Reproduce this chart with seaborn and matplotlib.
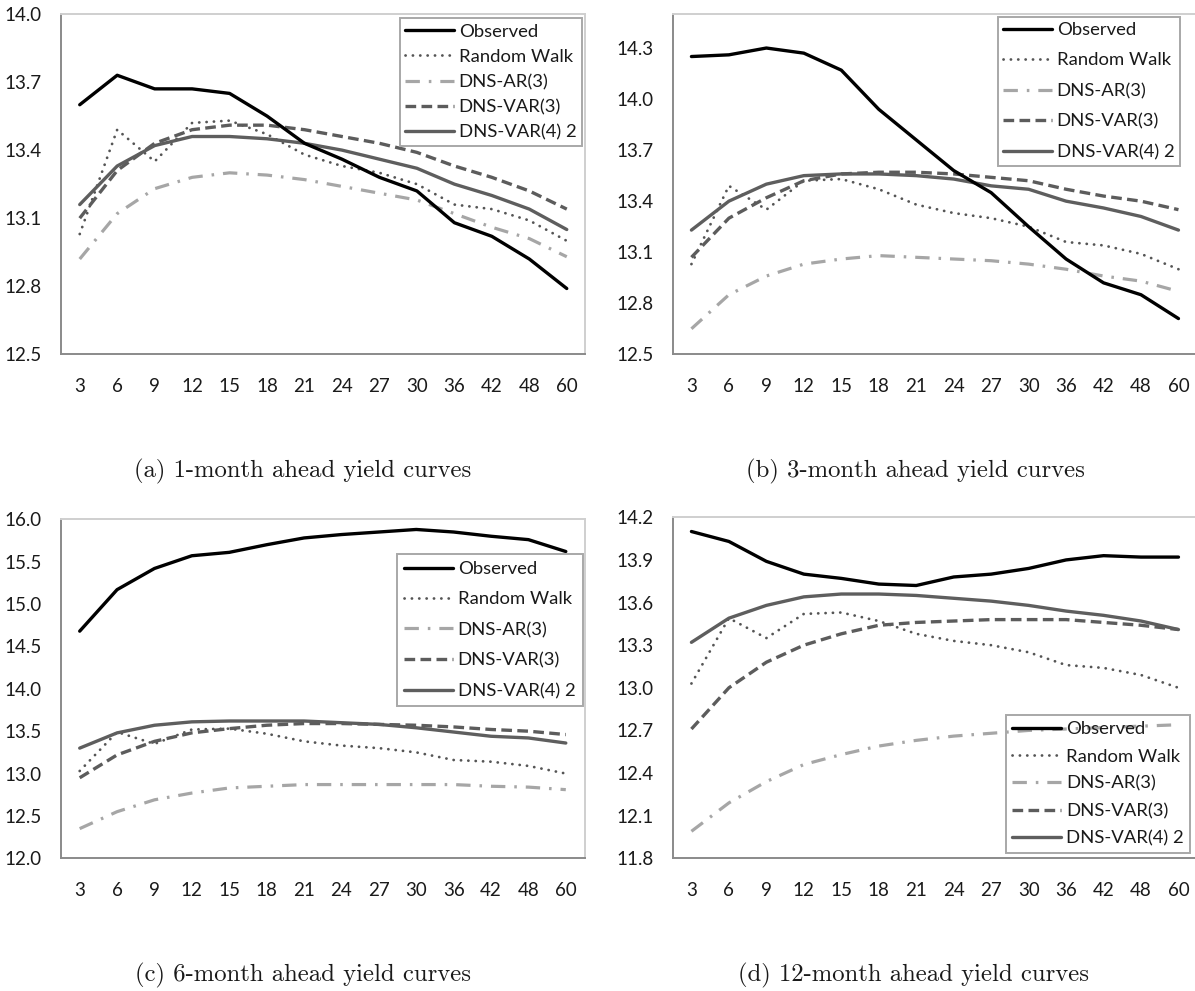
import matplotlib
matplotlib.use("Agg")
import matplotlib.pyplot as plt
from matplotlib.ticker import FixedLocator, FormatStrFormatter
import numpy as np
import pandas as pd
import seaborn as sns

# Maturities (months) on the horizontal axis
maturities = ["3", "6", "9", "12", "15", "18", "21", "24", "27", "30", "36", "42", "48", "60"]

series_names = ["Observed", "Random Walk", "DNS-AR(3)", "DNS-VAR(3)", "DNS-VAR(4) 2"]

# Random-walk forecast (same in every horizon)
random_walk = [13.03, 13.49, 13.35, 13.52, 13.53, 13.47, 13.38, 13.33, 13.30, 13.25, 13.16, 13.14, 13.09, 13.00]

# (a) 1-month ahead
obs_1m = [13.60, 13.73, 13.67, 13.67, 13.65, 13.55, 13.43, 13.36, 13.28, 13.22, 13.08, 13.02, 12.92, 12.79]
ar_1m = [12.92, 13.12, 13.23, 13.28, 13.30, 13.29, 13.27, 13.24, 13.21, 13.18, 13.12, 13.06, 13.01, 12.93]
var3_1m = [13.10, 13.31, 13.43, 13.49, 13.51, 13.51, 13.49, 13.46, 13.43, 13.39, 13.33, 13.28, 13.22, 13.14]
var4_1m = [13.16, 13.33, 13.42, 13.46, 13.46, 13.45, 13.43, 13.40, 13.36, 13.32, 13.25, 13.20, 13.14, 13.05]

# (b) 3-month ahead
obs_3m = [14.25, 14.26, 14.30, 14.27, 14.17, 13.94, 13.76, 13.58, 13.45, 13.25, 13.06, 12.92, 12.85, 12.71]
ar_3m = [12.65, 12.85, 12.96, 13.03, 13.06, 13.08, 13.07, 13.06, 13.05, 13.03, 13.00, 12.96, 12.93, 12.87]
var3_3m = [13.07, 13.30, 13.42, 13.52, 13.56, 13.57, 13.57, 13.56, 13.54, 13.52, 13.47, 13.43, 13.40, 13.35]
var4_3m = [13.23, 13.40, 13.50, 13.55, 13.56, 13.56, 13.55, 13.53, 13.49, 13.47, 13.40, 13.36, 13.31, 13.23]

# (c) 6-month ahead
obs_6m = [14.68, 15.17, 15.42, 15.57, 15.61, 15.70, 15.78, 15.82, 15.85, 15.88, 15.85, 15.80, 15.76, 15.62]
ar_6m = [12.35, 12.55, 12.69, 12.77, 12.83, 12.85, 12.87, 12.87, 12.87, 12.87, 12.87, 12.85, 12.84, 12.81]
var3_6m = [12.95, 13.22, 13.38, 13.48, 13.53, 13.57, 13.59, 13.59, 13.58, 13.57, 13.55, 13.52, 13.50, 13.46]
var4_6m = [13.30, 13.48, 13.57, 13.61, 13.62, 13.62, 13.62, 13.60, 13.58, 13.54, 13.49, 13.44, 13.42, 13.36]

# (d) 12-month ahead
obs_12m = [14.10, 14.03, 13.89, 13.80, 13.77, 13.73, 13.72, 13.78, 13.80, 13.84, 13.90, 13.93, 13.92, 13.92]
ar_12m = [11.99, 12.19, 12.34, 12.46, 12.53, 12.59, 12.63, 12.66, 12.68, 12.70, 12.71, 12.72, 12.73, 12.74]
var3_12m = [12.71, 13.00, 13.18, 13.30, 13.38, 13.44, 13.46, 13.47, 13.48, 13.48, 13.48, 13.46, 13.44, 13.41]
var4_12m = [13.32, 13.49, 13.58, 13.64, 13.66, 13.66, 13.65, 13.63, 13.61, 13.58, 13.54, 13.51, 13.47, 13.41]

captions = ["(a) 1-month ahead yield curves", "(b) 3-month ahead yield curves",
            "(c) 6-month ahead yield curves", "(d) 12-month ahead yield curves"]

panels = [
    dict(obs=obs_1m, ar=ar_1m, var3=var3_1m, var4=var4_1m, ylim=(12.5, 14.0), step=0.3, top=14.0),
    dict(obs=obs_3m, ar=ar_3m, var3=var3_3m, var4=var4_3m, ylim=(12.5, 14.5), step=0.3, top=14.3),
    dict(obs=obs_6m, ar=ar_6m, var3=var3_6m, var4=var4_6m, ylim=(12.0, 16.0), step=0.5, top=16.0),
    dict(obs=obs_12m, ar=ar_12m, var3=var3_12m, var4=var4_12m, ylim=(11.8, 14.2), step=0.3, top=14.2),
]

W, H = 1195, 991
sns.set_style("white")
plt.rcParams["font.family"] = ["Lato", "DejaVu Sans"]

fig = plt.figure(figsize=(W / 100, H / 100), dpi=100)

# axes rectangles in pixels: left, top, right, bottom
rects_px = [(61, 14, 585.5, 354.3), (672.7, 14, 1197.2, 354.3),
            (61, 519.3, 584.5, 858.3), (672.7, 517.3, 1197.2, 858.3)]
# legend upper-right corners in pixels, row spacing and border padding
legend_px = [(582, 18, 0.5, 0.3), (1180, 16.5, 0.78, 0.3), (582.5, 554, 0.78, 0.38), (1190, 715, 0.6, 0.35)]
caption_px = [(303, 471), (915, 471), (303, 975), (914, 975)]

styles = {
    "Observed": dict(color="#000000", lw=2.4, ls="-"),
    "Random Walk": dict(color="#555555", lw=2.0, ls=(0, (0.05, 2.6))),
    "DNS-AR(3)": dict(color="#a6a6a6", lw=2.3, ls=(0, (4.5, 2.8, 0.8, 2.8))),
    "DNS-VAR(3)": dict(color="#5c5c5c", lw=2.4, ls=(0, (3.2, 1.6))),
    "DNS-VAR(4) 2": dict(color="#5e5e5e", lw=2.4, ls="-"),
}

for i, p in enumerate(panels):
    l, t, r, b = rects_px[i]
    ax = fig.add_axes([l / W, 1 - b / H, (r - l) / W, (b - t) / H])
    values = {"Observed": p["obs"], "Random Walk": random_walk, "DNS-AR(3)": p["ar"],
              "DNS-VAR(3)": p["var3"], "DNS-VAR(4) 2": p["var4"]}
    draw_order = ["DNS-AR(3)", "Random Walk", "DNS-VAR(3)", "DNS-VAR(4) 2", "Observed"]
    handles = {}
    for name in draw_order:
        df = pd.DataFrame({"maturity": maturities, "yield": values[name]})
        st = styles[name]
        sns.lineplot(data=df, x="maturity", y="yield", ax=ax, sort=False,
                     color=st["color"], linewidth=st["lw"], linestyle=st["ls"],
                     label=name, legend=False)
        line = ax.lines[-1]
        if name == "Random Walk":
            line.set_dash_capstyle("round")
        else:
            line.set_dash_capstyle("butt")
        line.set_solid_joinstyle("round")
        handles[name] = line

    ax.set_xlim(-0.5, len(maturities) - 0.5)
    ax.set_ylim(*p["ylim"])
    lo = p["ylim"][0]
    yt = np.round(np.arange(lo, p["top"] + 1e-9, p["step"]), 2)
    ax.yaxis.set_major_locator(FixedLocator(yt))
    ax.yaxis.set_major_formatter(FormatStrFormatter("%.1f"))
    # category labels at centres, tick marks at the category boundaries
    ax.set_xticks(np.arange(len(maturities)))
    ax.set_xticklabels(maturities)
    ax.set_xticks(np.arange(len(maturities) + 1) - 0.5, minor=True)
    ax.tick_params(axis="x", which="major", length=0, pad=17, labelsize=13.5, labelcolor="#1a1a1a")
    ax.tick_params(axis="x", which="minor", length=6, width=1.3, color="#8a8a8a", direction="out")
    ax.tick_params(axis="y", which="major", length=6, width=1.3, color="#8a8a8a", direction="out",
                   pad=8, labelsize=13.5, labelcolor="#1a1a1a")
    ax.set_xlabel("")
    ax.set_ylabel("")
    for side in ("left", "bottom"):
        ax.spines[side].set_color("#8a8a8a")
        ax.spines[side].set_linewidth(1.4)
    for side in ("top", "right"):
        ax.spines[side].set_color("#cfcfcf")
        ax.spines[side].set_linewidth(1.4)

    lx, ly, lsp, bpad = legend_px[i]
    leg = ax.legend([handles[n] for n in series_names], series_names,
                    loc="upper right", bbox_to_anchor=(lx / W, 1 - ly / H),
                    bbox_transform=fig.transFigure, borderaxespad=0,
                    fontsize=13.3, handlelength=2.65, handletextpad=0.25,
                    labelspacing=lsp, borderpad=bpad, frameon=True, fancybox=False,
                    framealpha=1, edgecolor="#a8a8a8")
    frame = leg.get_frame()
    frame.set_linewidth(1.4)
    if i == 3:
        # the 12-month legend sits over the AR curve with a see-through box
        frame.set_facecolor("none")
    for txt in leg.get_texts():
        txt.set_color("#1a1a1a")

    cx, cy = caption_px[i]
    fig.text(cx / W, 1 - cy / H, captions[i], ha="center", va="center",
             fontsize=17.8, family="cmr10", color="#1a1a1a")

fig.savefig("out.png", dpi=100)
